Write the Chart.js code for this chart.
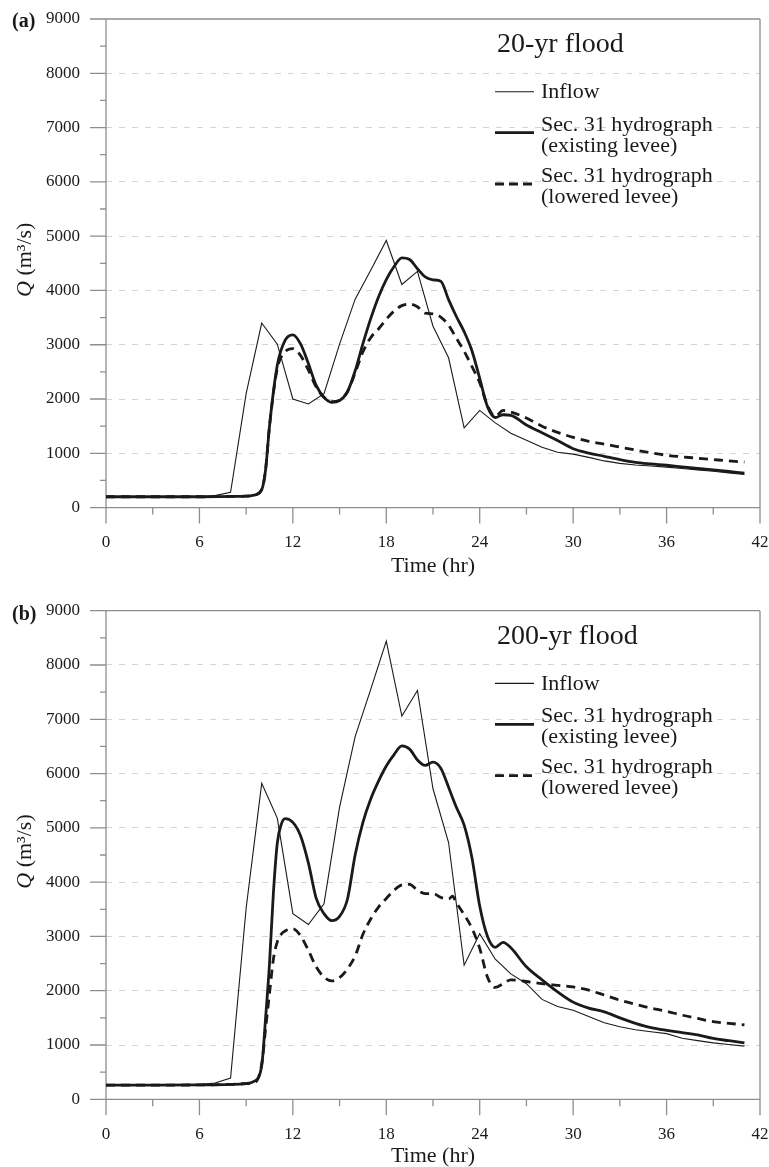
<!DOCTYPE html>
<html>
<head>
<meta charset="utf-8">
<script src="https://cdn.jsdelivr.net/npm/chart.js@4.4.1/dist/chart.umd.min.js"></script>
<style>
  html, body { margin: 0; padding: 0; background: #fff; overflow: hidden; }
  canvas { display: block; }
</style>
</head>
<body>
<canvas id="flood20" width="769" height="580"></canvas>
<canvas id="flood200" width="769" height="590"></canvas>
<script>
// inflow is given hourly, the Sec. 31 hydrographs on a finer step around the peaks
const inflowHours = [0, 1, 2, 3, 4, 5, 6, 7, 8, 9, 10, 11, 12, 13, 14, 15, 16, 17, 18, 19, 20,
  21, 22, 23, 24, 25, 26, 27, 28, 29, 30, 31, 32, 33, 34, 35, 36, 37, 38, 39, 40, 41];

// (a) 20-yr flood
const inflow20yr = [200, 200, 200, 200, 200, 200, 200, 220, 280, 2100, 3400, 3010, 2000, 1910,
  2100, 3010, 3840, 4370, 4920, 4110, 4350, 3340, 2760, 1470, 1790, 1560, 1370, 1240, 1110,
  1020, 985, 925, 860, 815, 785, 765, 745, 720, 695, 670, 640, 610];
const sec31Hours20yr = [0, 3, 6, 8, 9, 9.5, 10, 10.25, 10.5, 11, 11.5, 12, 12.5, 13, 13.5, 14,
  14.5, 15, 15.5, 16, 16.5, 17, 17.5, 18, 18.5, 19, 19.5, 20, 20.5, 21, 21.5, 22, 22.5, 23, 23.5,
  24, 24.5, 25, 25.5, 26, 27, 28, 29, 30, 31, 32, 33, 34, 35, 36, 37, 38, 39, 40, 41];
const existing20yr = [200, 200, 200, 205, 210, 230, 330, 700, 1500, 2620, 3080, 3180, 3010,
  2650, 2250, 2030, 1940, 1970, 2130, 2520, 3020, 3480, 3880, 4200, 4440, 4600, 4570, 4400,
  4250, 4195, 4170, 3830, 3520, 3240, 2890, 2380, 1860, 1660, 1710, 1700, 1520, 1380, 1235,
  1085, 1005, 945, 885, 835, 805, 780, 750, 720, 695, 665, 635];
const lowered20yr = [200, 200, 200, 205, 210, 230, 330, 700, 1500, 2560, 2870, 2930, 2800,
  2530, 2220, 2030, 1950, 1980, 2130, 2480, 2870, 3130, 3290, 3470, 3620, 3720, 3750, 3700,
  3580, 3570, 3510, 3360, 3120, 2880, 2600, 2300, 1880, 1680, 1790, 1760, 1650, 1500, 1385,
  1295, 1220, 1170, 1115, 1060, 1010, 965, 935, 910, 885, 860, 840];

// (b) 200-yr flood
const inflow200yr = [260, 260, 260, 260, 260, 260, 270, 300, 390, 3520, 5820, 5180, 3420, 3220,
  3600, 5380, 6680, 7550, 8440, 7060, 7530, 5720, 4730, 2470, 3050, 2580, 2310, 2130, 1840,
  1710, 1640, 1525, 1410, 1335, 1280, 1245, 1210, 1125, 1080, 1040, 1010, 980];
const sec31Hours200yr = [0, 3, 6, 8, 9, 9.5, 10, 10.25, 10.5, 10.75, 11, 11.25, 11.5, 12, 12.5,
  13, 13.5, 14, 14.5, 15, 15.5, 16, 16.5, 17, 17.5, 18, 18.5, 19, 19.5, 20, 20.5, 21, 21.5, 22,
  22.25, 22.5, 23, 23.5, 24, 24.5, 25, 25.5, 26, 27, 28, 29, 30, 31, 32, 33, 34, 35, 36, 37, 38,
  39, 40, 41];
const existing200yr = [260, 260, 265, 275, 290, 330, 620, 1500, 2500, 3800, 4720, 5060, 5170,
  5100, 4850, 4350, 3700, 3420, 3290, 3370, 3680, 4500, 5100, 5530, 5860, 6140, 6350, 6510,
  6450, 6250, 6150, 6210, 6100, 5750, 5560, 5380, 5050, 4450, 3560, 3000, 2800, 2890, 2790,
  2440, 2200, 1980, 1790, 1680, 1610, 1500, 1400, 1320, 1270, 1230, 1185, 1120, 1080, 1040];
const lowered200yr = [260, 260, 265, 275, 290, 300, 650, 1300, 1950, 2580, 2900, 3040, 3100,
  3140, 3010, 2740, 2440, 2250, 2180, 2240, 2400, 2640, 3040, 3320, 3540, 3700, 3850, 3950,
  3960, 3850, 3790, 3790, 3720, 3690, 3740, 3620, 3400, 3150, 2780, 2250, 2060, 2130, 2200,
  2170, 2130, 2100, 2070, 2010, 1920, 1825, 1750, 1680, 1620, 1550, 1490, 1430, 1400, 1370];

const legendLines = [
  ["Inflow"],
  ["Sec. 31 hydrograph", "(existing levee)"],
  ["Sec. 31 hydrograph", "(lowered levee)"],
];

const INK = "#1a1a1a";
const AXIS_COLOR = "#8e8e8e";
const GRID_COLOR = "#d4d4d4";
const NONE = "rgba(0,0,0,0)";
const SERIF = '"Liberation Serif", "Times New Roman", serif';
const PLOT_HEIGHT = 488.6;

function points(hours, values) {
  return hours.map((h, i) => ({ x: h, y: values[i] }));
}

// axis box, tick marks, panel letter, y title and the legend block
function makeFrame(cfg) {
  return {
    id: "floodFrame",
    beforeDatasetsDraw(chart) {
      const { ctx, chartArea: a, scales: { x, y } } = chart;
      ctx.save();
      ctx.strokeStyle = AXIS_COLOR;
      ctx.lineWidth = 1.3;
      ctx.beginPath();
      ctx.moveTo(a.left - 16, a.top); ctx.lineTo(a.right, a.top);
      ctx.moveTo(a.left - 16, a.bottom); ctx.lineTo(a.right, a.bottom);
      ctx.moveTo(a.left, a.top); ctx.lineTo(a.left, a.bottom + 16);
      ctx.moveTo(a.right, a.top); ctx.lineTo(a.right, a.bottom + 16);
      y.ticks.forEach((t) => {
        const py = y.getPixelForValue(t.value);
        const len = t.value % 1000 === 0 ? 16 : 6;
        ctx.moveTo(a.left - len, py); ctx.lineTo(a.left, py);
      });
      x.ticks.forEach((t) => {
        const px = x.getPixelForValue(t.value);
        const len = t.value % 6 === 0 ? 16 : 7;
        ctx.moveTo(px, a.bottom); ctx.lineTo(px, a.bottom + len);
      });
      ctx.stroke();
      ctx.restore();
    },
    afterDraw(chart) {
      const { ctx, chartArea: a } = chart;
      ctx.save();
      ctx.fillStyle = INK;
      ctx.textAlign = "left";
      ctx.textBaseline = "alphabetic";

      ctx.font = "bold 20px " + SERIF;
      ctx.fillText(cfg.panel, 12, a.top + cfg.panelDy);

      // Q (m³/s), rotated
      ctx.save();
      ctx.translate(31, (a.top + a.bottom) / 2 - 3.5);
      ctx.rotate(-Math.PI / 2);
      const italic = "italic 22px " + SERIF;
      const upright = "22px " + SERIF;
      ctx.font = italic;
      const wq = ctx.measureText("Q").width;
      ctx.font = upright;
      const wu = ctx.measureText(" (m\u00b3/s)").width;
      const x0 = -(wq + wu) / 2;
      ctx.font = italic;
      ctx.fillText("Q", x0, 0);
      ctx.font = upright;
      ctx.fillText(" (m\u00b3/s)", x0 + wq, 0);
      ctx.restore();

      // legend
      const lx = a.left + 389;
      const tx = lx + 46;
      ctx.font = "28px " + SERIF;
      ctx.fillText(cfg.title, lx + 2, a.top + 33);

      ctx.font = "22px " + SERIF;
      const rows = [
        { lineY: 72.7, baseY: 79, width: 1.1, dash: [] },
        { lineY: 113.7, baseY: 111.7, width: 2.8, dash: [] },
        { lineY: 165, baseY: 162.7, width: 2.8, dash: [9, 5] },
      ];
      rows.forEach((r, i) => {
        ctx.strokeStyle = INK;
        ctx.lineWidth = r.width;
        ctx.setLineDash(r.dash);
        ctx.beginPath();
        ctx.moveTo(lx, a.top + r.lineY);
        ctx.lineTo(lx + 39, a.top + r.lineY);
        ctx.stroke();
        legendLines[i].forEach((txt, k) => {
          ctx.fillText(txt, tx, a.top + r.baseY + k * 21);
        });
      });
      ctx.setLineDash([]);
      ctx.restore();
    },
  };
}

function buildChart(id, cfg) {
  const canvas = document.getElementById(id);
  return new Chart(canvas, {
    type: "line",
    data: {
      datasets: [
        {
          label: "Inflow",
          data: points(inflowHours, cfg.inflow),
          borderColor: INK,
          borderWidth: 1.1,
          pointRadius: 0,
          tension: 0,
        },
        {
          label: "Sec. 31 hydrograph (existing levee)",
          data: points(cfg.hours, cfg.existing),
          borderColor: INK,
          borderWidth: 2.8,
          pointRadius: 0,
          cubicInterpolationMode: "monotone",
        },
        {
          label: "Sec. 31 hydrograph (lowered levee)",
          data: points(cfg.hours, cfg.lowered),
          borderColor: INK,
          borderWidth: 2.8,
          borderDash: [9, 6],
          pointRadius: 0,
          cubicInterpolationMode: "monotone",
        },
      ],
    },
    options: {
      responsive: false,
      animation: false,
      events: [],
      layout: { padding: { top: cfg.top, right: 9, left: 0, bottom: 0 } },
      plugins: { legend: { display: false }, tooltip: { enabled: false } },
      scales: {
        x: {
          type: "linear",
          min: 0,
          max: 42,
          afterFit: (s) => { s.height = canvas.height - cfg.top - PLOT_HEIGHT; },
          // invisible tick marks only set the gap between axis and labels
          grid: { drawOnChartArea: false, drawTicks: true, tickLength: 25, tickColor: NONE },
          border: { display: false },
          ticks: {
            stepSize: 3,
            autoSkip: false,
            maxRotation: 0,
            padding: 0,
            color: INK,
            font: { family: SERIF, size: 17 },
            callback: (v) => (v % 6 === 0 ? v : ""),
          },
          title: {
            display: true,
            text: "Time (hr)",
            color: INK,
            font: { family: SERIF, size: 22, lineHeight: 1 },
            padding: { top: 0, bottom: 3 },
          },
        },
        y: {
          min: 0,
          max: 9000,
          afterFit: (s) => { s.width = 106; },
          grid: {
            drawTicks: true,
            tickLength: 26,
            tickColor: NONE,
            lineWidth: 1,
            color: (c) => {
              const v = c.tick.value;
              return v % 1000 === 0 && v > 0 && v < 9000 ? GRID_COLOR : NONE;
            },
          },
          border: { display: false, dash: [6, 7] },
          ticks: {
            stepSize: 500,
            autoSkip: false,
            padding: 0,
            color: INK,
            font: { family: SERIF, size: 17 },
            callback: (v) => (v % 1000 === 0 ? v : ""),
          },
        },
      },
    },
    plugins: [makeFrame(cfg)],
  });
}

buildChart("flood20", {
  panel: "(a)",
  panelDy: 7.5,
  title: "20-yr flood",
  top: 19,
  inflow: inflow20yr,
  hours: sec31Hours20yr,
  existing: existing20yr,
  lowered: lowered20yr,
});

buildChart("flood200", {
  panel: "(b)",
  panelDy: 9.5,
  title: "200-yr flood",
  top: 30.7,
  inflow: inflow200yr,
  hours: sec31Hours200yr,
  existing: existing200yr,
  lowered: lowered200yr,
});
</script>
</body>
</html>
